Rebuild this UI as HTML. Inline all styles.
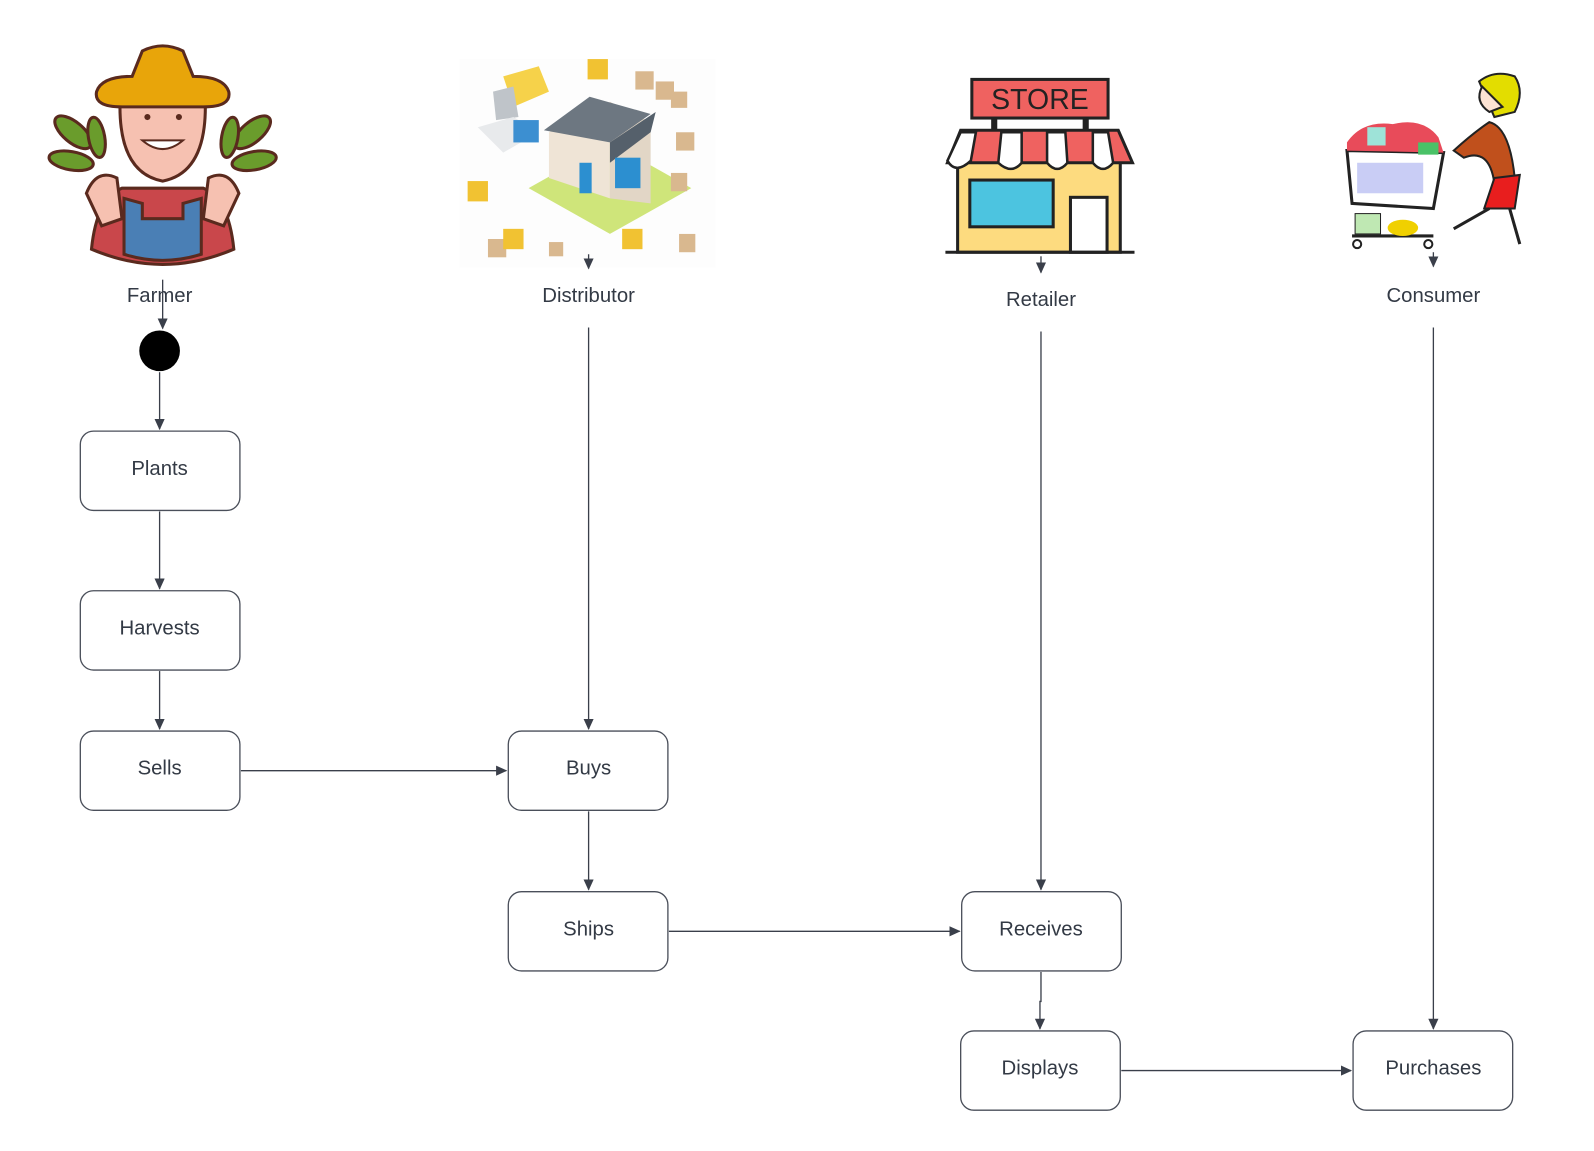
<!DOCTYPE html>
<html><head><meta charset="utf-8"><style>
html,body{margin:0;padding:0;background:#fff;}
svg{display:block;}
text{font-family:"Liberation Sans",sans-serif;fill:#333a45;}
</style></head><body>
<svg width="1594" height="1151" viewBox="0 0 1568 1132" xmlns="http://www.w3.org/2000/svg">
<defs>
<marker id="a" markerWidth="12" markerHeight="12" refX="10" refY="5" orient="auto" markerUnits="userSpaceOnUse"><path d="M0,0 L11,5 L0,10 z" fill="#3a3f4a"/></marker>
</defs>
<rect width="1568" height="1132" fill="#fff"/>

<!-- Farmer -->
<g stroke="#5a2a1e" stroke-width="3">
<path d="M90,245 Q95,195 120,185 L200,185 Q225,195 230,245 Q160,275 90,245z" fill="#c9474b"/>
<path d="M122,195 L122,250 Q160,262 198,250 L198,195 L180,200 L180,215 L140,215 L140,200z" fill="#4a7fb5"/>
<path d="M118,105 Q118,170 160,178 Q202,170 202,105 Q200,85 160,85 Q120,85 118,105z" fill="#f6c1b1"/>
<path d="M95,90 Q100,75 130,75 L140,50 Q160,40 180,50 L190,75 Q220,75 225,90 Q228,105 200,105 L120,105 Q92,105 95,90z" fill="#e8a50a"/>
<ellipse cx="72" cy="130" rx="22" ry="10" fill="#6a9c2c" transform="rotate(40 72 130)"/>
<ellipse cx="70" cy="158" rx="22" ry="9" fill="#6a9c2c" transform="rotate(10 70 158)"/>
<ellipse cx="95" cy="135" rx="20" ry="8" fill="#6a9c2c" transform="rotate(80 95 135)"/>
<ellipse cx="248" cy="130" rx="22" ry="10" fill="#6a9c2c" transform="rotate(-40 248 130)"/>
<ellipse cx="250" cy="158" rx="22" ry="9" fill="#6a9c2c" transform="rotate(-10 250 158)"/>
<ellipse cx="226" cy="135" rx="20" ry="8" fill="#6a9c2c" transform="rotate(-80 226 135)"/>
<path d="M85,190 Q95,165 115,175 L120,215 L100,222z" fill="#f6c1b1"/>
<path d="M235,190 Q225,165 205,175 L200,215 L220,222z" fill="#f6c1b1"/>
</g>
<path d="M140,138 Q160,155 180,138z" fill="#fff" stroke="#5a2a1e" stroke-width="2"/>
<circle cx="145" cy="115" r="3" fill="#5a2a1e"/><circle cx="176" cy="115" r="3" fill="#5a2a1e"/>

<!-- Distributor -->
<rect x="452" y="58" width="252" height="205" fill="#fdfdfd"/>
<polygon points="520,185 600,230 680,185 600,140" fill="#cfe57a"/>
<polygon points="540,130 600,100 600,195 540,175" fill="#efe4d6"/>
<polygon points="600,100 640,120 640,200 600,195" fill="#e2d6c6"/>
<polygon points="535,128 580,95 640,112 600,140" fill="#6d7781"/>
<polygon points="600,140 645,110 640,130 600,160" fill="#55606b"/>
<rect x="570" y="160" width="12" height="30" fill="#2c8fd0"/>
<rect x="605" y="155" width="25" height="30" fill="#2c8fd0"/>
<polygon points="495,75 530,65 540,90 505,105" fill="#f6d24a"/>
<polygon points="485,90 505,85 510,115 488,118" fill="#bfc4c9"/>
<polygon points="470,125 505,115 530,130 495,150" fill="#e8eaec"/>
<rect x="505" y="118" width="25" height="22" fill="#3c8fd1"/>
<g fill="#d9b88f"><rect x="625" y="70" width="18" height="18"/><rect x="645" y="80" width="18" height="18"/><rect x="660" y="90" width="16" height="16"/><rect x="665" y="130" width="18" height="18"/><rect x="660" y="170" width="16" height="18"/><rect x="480" y="235" width="18" height="18"/><rect x="540" y="238" width="14" height="14"/><rect x="668" y="230" width="16" height="18"/></g>
<g fill="#f1c232"><rect x="578" y="58" width="20" height="20"/><rect x="460" y="178" width="20" height="20"/><rect x="495" y="225" width="20" height="20"/><rect x="612" y="225" width="20" height="20"/></g>

<!-- Store -->
<rect x="956" y="78" width="134" height="38" fill="#ef6260" stroke="#222" stroke-width="3"/>
<text x="1023" y="107" text-anchor="middle" font-size="28" style="fill:#222" textLength="96">STORE</text>
<rect x="975" y="116" width="6" height="12" fill="#222"/><rect x="1065" y="116" width="6" height="12" fill="#222"/>
<rect x="942" y="150" width="160" height="98" fill="#fddb7f" stroke="#222" stroke-width="3"/>
<path d="M945,128 L1100,128 L1114,160 L932,160z" fill="#ef6260" stroke="#222" stroke-width="3"/>
<g fill="#fff" stroke="#222" stroke-width="2.5"><path d="M932,158 Q940,172 955,158 L960,130 L945,130z"/><path d="M982,160 Q995,172 1005,160 L1005,130 L985,130z"/><path d="M1030,160 Q1040,172 1050,160 L1048,130 L1030,130z"/><path d="M1075,160 Q1085,172 1095,160 L1090,130 L1075,130z"/></g>
<rect x="954" y="177" width="82" height="46" fill="#4cc4e0" stroke="#222" stroke-width="3"/>
<rect x="1053" y="194" width="36" height="54" fill="#fff" stroke="#222" stroke-width="3"/>
<line x1="930" y1="248" x2="1116" y2="248" stroke="#222" stroke-width="3"/>

<!-- Consumer -->
<path d="M1325,148 L1420,150 L1410,205 L1330,200z" fill="#fff" stroke="#222" stroke-width="3"/>
<rect x="1335" y="160" width="65" height="30" fill="#c9cdf5"/>
<path d="M1325,140 Q1340,118 1370,122 Q1400,115 1415,135 L1420,150 L1325,148z" fill="#e84b5a"/>
<rect x="1345" y="125" width="18" height="18" fill="#9ee3d8"/><rect x="1395" y="140" width="20" height="12" fill="#4ac267"/>
<line x1="1330" y1="232" x2="1410" y2="232" stroke="#222" stroke-width="3"/>
<rect x="1333" y="210" width="25" height="20" fill="#bfe8b3" stroke="#222"/><ellipse cx="1380" cy="224" rx="15" ry="8" fill="#f0d000"/>
<circle cx="1335" cy="240" r="4" fill="#fff" stroke="#222" stroke-width="2"/><circle cx="1405" cy="240" r="4" fill="#fff" stroke="#222" stroke-width="2"/>
<path d="M1455,80 Q1470,68 1490,75 Q1500,90 1490,110 L1470,115z" fill="#e3dd00" stroke="#222" stroke-width="2"/>
<path d="M1458,85 Q1450,100 1465,110 L1478,105z" fill="#fde3d3" stroke="#222" stroke-width="2"/>
<path d="M1465,120 Q1485,125 1490,175 L1470,180 Q1465,145 1440,155 L1430,148 Q1450,130 1465,120z" fill="#c0501c" stroke="#222" stroke-width="2"/>
<path d="M1470,175 L1495,172 L1490,205 L1460,205z" fill="#e81e1e" stroke="#222" stroke-width="2"/>
<path d="M1465,205 L1430,225 M1485,205 L1495,240" stroke="#222" stroke-width="3"/>

<!-- labels -->
<g font-size="20" text-anchor="middle">
<text x="157" y="297">Farmer</text>
<text x="579" y="297">Distributor</text>
<text x="1024" y="301">Retailer</text>
<text x="1410" y="297">Consumer</text>
</g>

<!-- connectors -->
<g stroke="#3a3f4a" stroke-width="1.3" fill="none" marker-end="url(#a)">
<line x1="160" y1="275" x2="160" y2="323"/>
<line x1="157" y1="366" x2="157" y2="422"/>
<line x1="157" y1="503" x2="157" y2="579"/>
<line x1="157" y1="660" x2="157" y2="717"/>
<line x1="237" y1="758" x2="498" y2="758"/>
<line x1="579" y1="322" x2="579" y2="717"/>
<line x1="579" y1="798" x2="579" y2="875"/>
<line x1="658" y1="916" x2="944" y2="916"/>
<line x1="1024" y1="326" x2="1024" y2="875"/>
<polyline points="1024,956 1024,985 1023,985 1023,1012"/>
<line x1="1103" y1="1053" x2="1329" y2="1053"/>
<line x1="1410" y1="322" x2="1410" y2="1012"/>
<line x1="579" y1="250" x2="579" y2="264"/>
<line x1="1024" y1="252" x2="1024" y2="268"/>
<line x1="1410" y1="248" x2="1410" y2="262"/>
</g>
<circle cx="157" cy="345" r="20" fill="#000"/>

<!-- boxes -->
<g fill="#fff" stroke="#4a4f5a" stroke-width="1.3">
<rect x="79" y="424" width="157" height="78" rx="13"/>
<rect x="79" y="581" width="157" height="78" rx="13"/>
<rect x="79" y="719" width="157" height="78" rx="13"/>
<rect x="500" y="719" width="157" height="78" rx="13"/>
<rect x="500" y="877" width="157" height="78" rx="13"/>
<rect x="946" y="877" width="157" height="78" rx="13"/>
<rect x="945" y="1014" width="157" height="78" rx="13"/>
<rect x="1331" y="1014" width="157" height="78" rx="13"/>
</g>
<g font-size="20" text-anchor="middle">
<text x="157" y="467">Plants</text>
<text x="157" y="624">Harvests</text>
<text x="157" y="762">Sells</text>
<text x="579" y="762">Buys</text>
<text x="579" y="920">Ships</text>
<text x="1024" y="920">Receives</text>
<text x="1023" y="1057">Displays</text>
<text x="1410" y="1057">Purchases</text>
</g>
</svg>
</body></html>
